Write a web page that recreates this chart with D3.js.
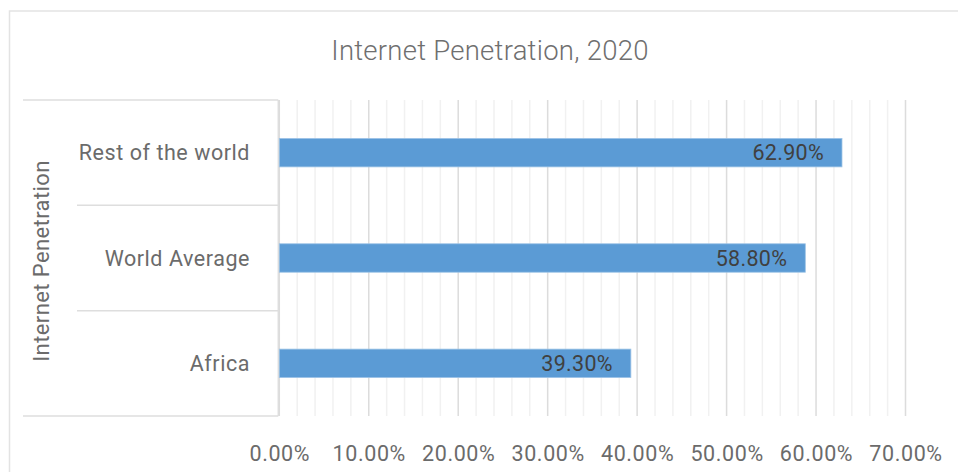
<!DOCTYPE html>
<html>
<head>
<meta charset="utf-8">
<script src="https://cdn.jsdelivr.net/npm/d3@7"></script>
<style>
    body { margin: 0; background: #fff; }
    text { font-family: Roboto, "Noto Sans", sans-serif; }
</style>
</head>
<body>
<svg id="chart"></svg>
<script>
const categories = ["Rest of the world", "World Average", "Africa"];
const values = [62.9, 58.8, 39.3];
const majorTicks = [0, 10, 20, 30, 40, 50, 60, 70];
const minorTicks = d3.range(0, 71, 2);
const chartTitle = "Internet Penetration, 2020";
const axisTitle = "Internet Penetration";

const width = 958, height = 472;
const plot = { left: 279.3, right: 905.5, top: 100, bottom: 416 };
const boxLeft = 23, sepLeft = 77;

const svg = d3.select("#chart").attr("width", width).attr("height", height);

// outer chart border (runs past the right and bottom edges)
svg.append("rect")
    .attr("x", 9.5).attr("y", 11)
    .attr("width", 970).attr("height", 480)
    .attr("fill", "none")
    .attr("stroke", "#e3e3e3")
    .attr("stroke-width", 1.5);

svg.append("text")
    .attr("x", 490).attr("y", 60)
    .attr("text-anchor", "middle")
    .style("font-size", "27.5px")
    .style("font-weight", 300)
    .style("letter-spacing", "0.25px")
    .attr("fill", "#6f6f6f")
    .text(chartTitle);

const x = d3.scaleLinear().domain([0, 70]).range([plot.left, plot.right]);
const y = d3.scaleBand().domain(categories).range([plot.top, plot.bottom]).paddingInner(0.73).paddingOuter(0.365);
const band = d3.scaleBand().domain(categories).range([plot.top, plot.bottom]);

// gridlines
svg.append("g").selectAll("line")
    .data(minorTicks.filter(d => d % 10 !== 0))
    .join("line")
    .attr("x1", d => x(d)).attr("x2", d => x(d))
    .attr("y1", plot.top).attr("y2", plot.bottom)
    .attr("stroke", "#f1f1f1")
    .attr("stroke-width", 1.5);

svg.append("g").selectAll("line")
    .data(majorTicks)
    .join("line")
    .attr("x1", d => x(d)).attr("x2", d => x(d))
    .attr("y1", plot.top).attr("y2", plot.bottom)
    .attr("stroke", "#dcdcdc")
    .attr("stroke-width", 1.5);

// left category box
const box = svg.append("g").attr("stroke", "#dedede").attr("stroke-width", 1.5);
box.append("line").attr("x1", boxLeft).attr("x2", plot.left - 1).attr("y1", plot.top).attr("y2", plot.top);
box.append("line").attr("x1", boxLeft).attr("x2", plot.left - 1).attr("y1", plot.bottom).attr("y2", plot.bottom);
box.append("line").attr("x1", plot.left - 1).attr("x2", plot.left - 1).attr("y1", plot.top).attr("y2", plot.bottom);
box.selectAll("line.sep")
    .data(categories.slice(1))
    .join("line")
    .attr("class", "sep")
    .attr("x1", sepLeft).attr("x2", plot.left - 1)
    .attr("y1", d => band(d)).attr("y2", d => band(d));

// bars
svg.append("g").selectAll("rect")
    .data(categories)
    .join("rect")
    .attr("x", x(0))
    .attr("y", d => y(d))
    .attr("width", (d, i) => x(values[i]) - x(0))
    .attr("height", y.bandwidth())
    .attr("fill", "#5b9bd5")
    .attr("stroke", "#9dc3e6")
    .attr("stroke-width", 0.8);

// value labels
svg.append("g").selectAll("text")
    .data(categories)
    .join("text")
    .attr("x", (d, i) => x(values[i]) - 18)
    .attr("y", d => y(d) + y.bandwidth() / 2)
    .attr("dy", "0.36em")
    .attr("text-anchor", "end")
    .style("font-size", "21.5px")
    .style("letter-spacing", "0.3px")
    .attr("fill", "#404040")
    .text((d, i) => values[i].toFixed(2) + "%");

// category labels
svg.append("g").selectAll("text")
    .data(categories)
    .join("text")
    .attr("x", 250)
    .attr("y", d => band(d) + band.bandwidth() / 2)
    .attr("dy", "0.36em")
    .attr("text-anchor", "end")
    .style("font-size", "21.5px")
    .style("letter-spacing", "0.55px")
    .attr("fill", "#6b6b6b")
    .text(d => d);

// axis title
svg.append("text")
    .attr("transform", `translate(49, ${(plot.top + plot.bottom) / 2 + 3}) rotate(-90)`)
    .attr("text-anchor", "middle")
    .style("font-size", "22px")
    .style("letter-spacing", "0.4px")
    .attr("fill", "#6b6b6b")
    .text(axisTitle);

// x tick labels
const xAxis = svg.append("g")
    .attr("transform", `translate(0, ${plot.bottom})`)
    .call(d3.axisBottom(x).tickValues(majorTicks).tickSize(0).tickPadding(30).tickFormat(d => d.toFixed(2) + "%"));
xAxis.select(".domain").remove();
xAxis.selectAll("text")
    .style("font-size", "21.5px")
    .style("font-family", "Roboto, sans-serif")
    .style("letter-spacing", "0.6px")
    .attr("fill", "#6b6b6b");
</script>
</body>
</html>
